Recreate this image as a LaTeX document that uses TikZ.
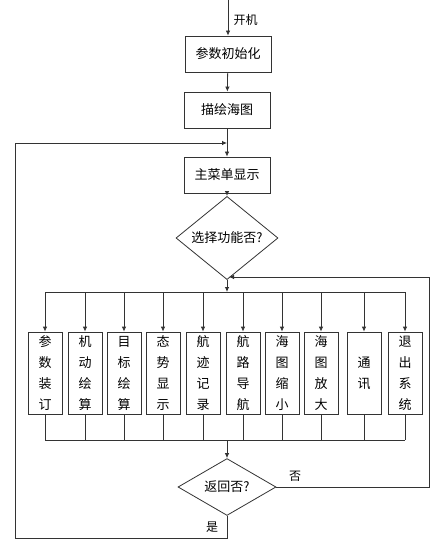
\documentclass[tikz,border=0pt]{standalone}
\usepackage{fontspec}
\newfontfamily\cjk{Noto Sans CJK SC}
\usepackage{tikz}
\usetikzlibrary{arrows.meta,positioning,calc,shapes.geometric}
\tikzset{
  procbox/.style={draw=black!80,line width=0.8pt,align=center,
    minimum width=86pt,minimum height=36pt,font=\cjk\fontsize{13}{15}\selectfont},
  choicebox/.style={draw=black!80,line width=0.8pt,diamond,align=center,inner sep=0pt,
    minimum width=102pt,minimum height=57pt,font=\cjk\fontsize{13}{15}\selectfont},
  funcbox/.style={draw=black!80,line width=0.8pt,align=center,
    minimum width=34pt,minimum height=82pt,text width=14pt,inner sep=0pt,
    font=\cjk\fontsize{13}{21}\selectfont},
  flowarrow/.style={-{Latex[length=5pt,width=4.5pt]},line width=0.8pt,draw=black!80},
  flowline/.style={line width=0.8pt,draw=black!80},
  flowlabel/.style={font=\cjk\fontsize{12}{14}\selectfont}
}

\begin{document}
\begin{tikzpicture}[x=1pt,y=-1pt]
  \useasboundingbox[fill=white] (0,0) rectangle (433,540);
  % main column
  \coordinate (start) at (228,0);
  \node[procbox] (init) at (228,54) {参数初始化};
  \node[procbox] (chart) at (227,110) {描绘海图};
  \node[procbox] (menu) at (227,175) {主菜单显示};
  \node[choicebox] (choose) at (227,238) {选择功能否?};
  \node[choicebox,minimum width=98pt,minimum height=55pt] (back) at (227,487) {返回否?};
  \coordinate (loopin) at (227,143);
  \coordinate (topbar) at (227,292);
  \coordinate (botbar) at (227,440);
  \draw[flowarrow] (start) -- (init.north) node[flowlabel,pos=0.55,right=2pt] {开机};
  \draw[flowarrow] (init) -- (chart);
  \draw[flowarrow] (chart) -- (menu);
  \draw[flowarrow] (menu) -- (choose);
  \draw[flowarrow] (choose) -- (topbar);
  % function boxes
  \foreach \n/\x/\txt in {1/45/参\\数\\装\\订, 2/85/机\\动\\绘\\算, 3/124/目\\标\\绘\\算,
      4/163/态\\势\\显\\示, 5/203/航\\迹\\记\\录, 6/243/航\\路\\导\\航,
      7/282/海\\图\\缩\\小, 8/321/海\\图\\放\\大, 9/364/通\\讯, 10/405/退\\出\\系\\统}{
    \node[funcbox] (f\n) at (\x,373) {\txt};
    \draw[flowarrow] (\x,292) -- (f\n.north);
    \draw[flowline] (f\n.south) -- (\x,440);
  }
  \draw[flowline] (45,292) -- (405,292);
  \draw[flowline] (45,440) -- (405,440);
  \draw[flowarrow] (botbar) -- (back.north);
  % return loops
  \draw[flowarrow] (back.east) -- (429,487) -- (429,277) -- (229,277);
  \node[flowlabel] (no) at (295,476) {否};
  \draw[flowarrow] (back.south) -- (227,538) -- (15,538) -- (15,143) -- (loopin);
  \node[flowlabel] (yes) at (212,527) {是};
\end{tikzpicture}
\end{document}
